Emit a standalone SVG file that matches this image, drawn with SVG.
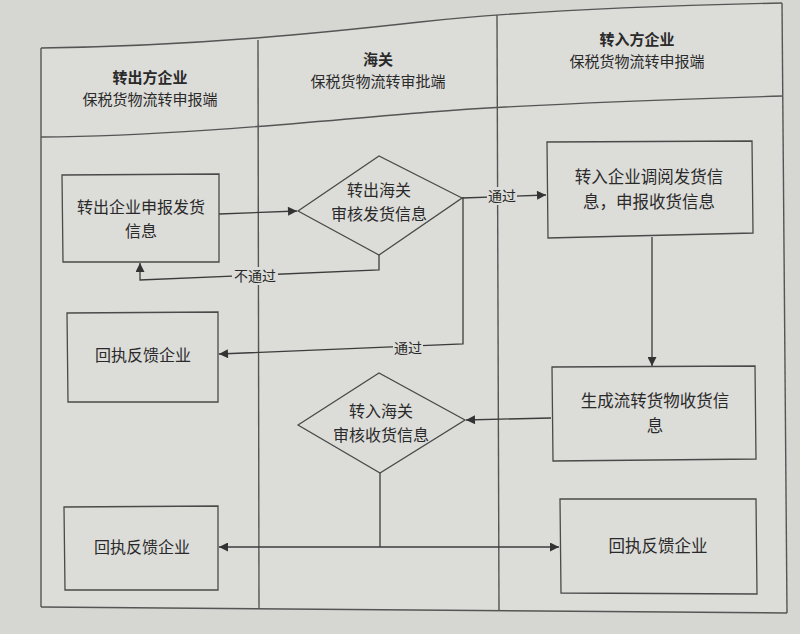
<svg xmlns="http://www.w3.org/2000/svg" width="800" height="634" viewBox="0 0 800 634">
<defs>
<marker id="arr" viewBox="0 0 10 10" refX="10" refY="5" markerWidth="11" markerHeight="9" markerUnits="userSpaceOnUse" orient="auto">
<path d="M0,0 L10,5 L0,10 Z" fill="#333"/>
</marker>
<style>
.t{font-family:"Noto Sans CJK SC","Noto Sans",sans-serif;fill:#2a2a2a;text-anchor:middle}
.h{font-size:15px}
.hb{font-size:15px;font-weight:bold}
.n{font-size:16px}
.n2{font-size:16.5px}
.l{font-size:14px}
.shape{fill:none;stroke:#4a4a4a;stroke-width:1.3}
.frame{fill:none;stroke:#555;stroke-width:1.4}
.c{fill:none;stroke:#3c3c3c;stroke-width:1.3}
.lbl{fill:#dcdcd9}
</style>
</defs>
<rect x="0" y="0" width="800" height="634" fill="#d6d6d3"/>
<path d="M41,48 C200,46 330,32 420,22 S650,6 782,3 L787,613 L41,607 Z" fill="#dcdcd9"/>
<g id="table">
<path class="frame" d="M41,48 C200,46 330,32 420,22 S650,6 782,3" stroke-width="2.2"/>
<path class="frame" d="M41,137 C180,136 330,120 430,112 S650,100 783,96"/>
<line class="frame" x1="41" y1="48" x2="41" y2="607"/>
<line class="frame" x1="258" y1="40" x2="259" y2="609"/>
<line class="frame" x1="497" y1="15" x2="499" y2="610"/>
<line class="frame" x1="782" y1="3" x2="787" y2="613"/>
<line class="frame" x1="41" y1="607" x2="787" y2="613"/>
</g>
<g id="lane1-header">
<text class="t hb" x="150" y="83">转出方企业</text>
<text class="t h" x="150" y="105">保税货物流转申报端</text>
</g>
<g id="lane2-header">
<text class="t hb" x="378" y="65">海关</text>
<text class="t h" x="378" y="87">保税货物流转审批端</text>
</g>
<g id="lane3-header">
<text class="t hb" x="637" y="45">转入方企业</text>
<text class="t h" x="637" y="67">保税货物流转申报端</text>
</g>
<g id="connectors">
<line class="c" x1="219" y1="214" x2="297" y2="211" marker-end="url(#arr)"/>
<polyline class="c" points="379,255 379,270 140,280 140,263" marker-end="url(#arr)"/>
<polyline class="c" points="462,198 546,195" marker-end="url(#arr)"/>
<polyline class="c" points="462,198 463,198 463,344 219,354" marker-end="url(#arr)"/>
<line class="c" x1="652" y1="237" x2="652" y2="366" marker-end="url(#arr)"/>
<line class="c" x1="551" y1="418" x2="466" y2="420" marker-end="url(#arr)"/>
<line class="c" x1="380" y1="473" x2="380" y2="547"/>
<line class="c" x1="380" y1="547" x2="219" y2="547" marker-end="url(#arr)"/>
<line class="c" x1="380" y1="547" x2="559" y2="547" marker-end="url(#arr)"/>
<rect class="lbl" x="232" y="267" width="46" height="18"/>
<text class="t l" x="255" y="281">不通过</text>
<rect class="lbl" x="487" y="187" width="30" height="18"/>
<text class="t l" x="502" y="201">通过</text>
<rect class="lbl" x="393" y="339" width="30" height="18"/>
<text class="t l" x="408" y="353">通过</text>
</g>
<g id="n1">
<polygon class="shape" points="62,175 219,174 219,262 63,262"/>
<text class="t n" x="141" y="213">转出企业申报发货</text>
<text class="t n" x="141" y="237">信息</text>
</g>
<g id="n2">
<polygon class="shape" points="298,211 379,156 462,198 379,255"/>
<text class="t n" x="379" y="196">转出海关</text>
<text class="t n" x="379" y="220">审核发货信息</text>
</g>
<g id="n3">
<polygon class="shape" points="547,142 752,141 753,233 548,238"/>
<text class="t n2" x="649" y="183">转入企业调阅发货信</text>
<text class="t n2" x="649" y="208">息，申报收货信息</text>
</g>
<g id="n4">
<polygon class="shape" points="67,313 218,312 218,402 68,402"/>
<text class="t n" x="143" y="361">回执反馈企业</text>
</g>
<g id="n5">
<polygon class="shape" points="552,367 755,366 756,459 553,461"/>
<text class="t n2" x="655" y="407">生成流转货物收货信</text>
<text class="t n2" x="655" y="432">息</text>
</g>
<g id="n6">
<polygon class="shape" points="298,425 379,373 465,420 380,473"/>
<text class="t n" x="381" y="417">转入海关</text>
<text class="t n" x="381" y="441">审核收货信息</text>
</g>
<g id="n7">
<polygon class="shape" points="64,507 218,506 218,590 65,590"/>
<text class="t n" x="142" y="553">回执反馈企业</text>
</g>
<g id="n8">
<polygon class="shape" points="560,499 756,499 757,594 561,593"/>
<text class="t n2" x="658" y="552">回执反馈企业</text>
</g>
</svg>
